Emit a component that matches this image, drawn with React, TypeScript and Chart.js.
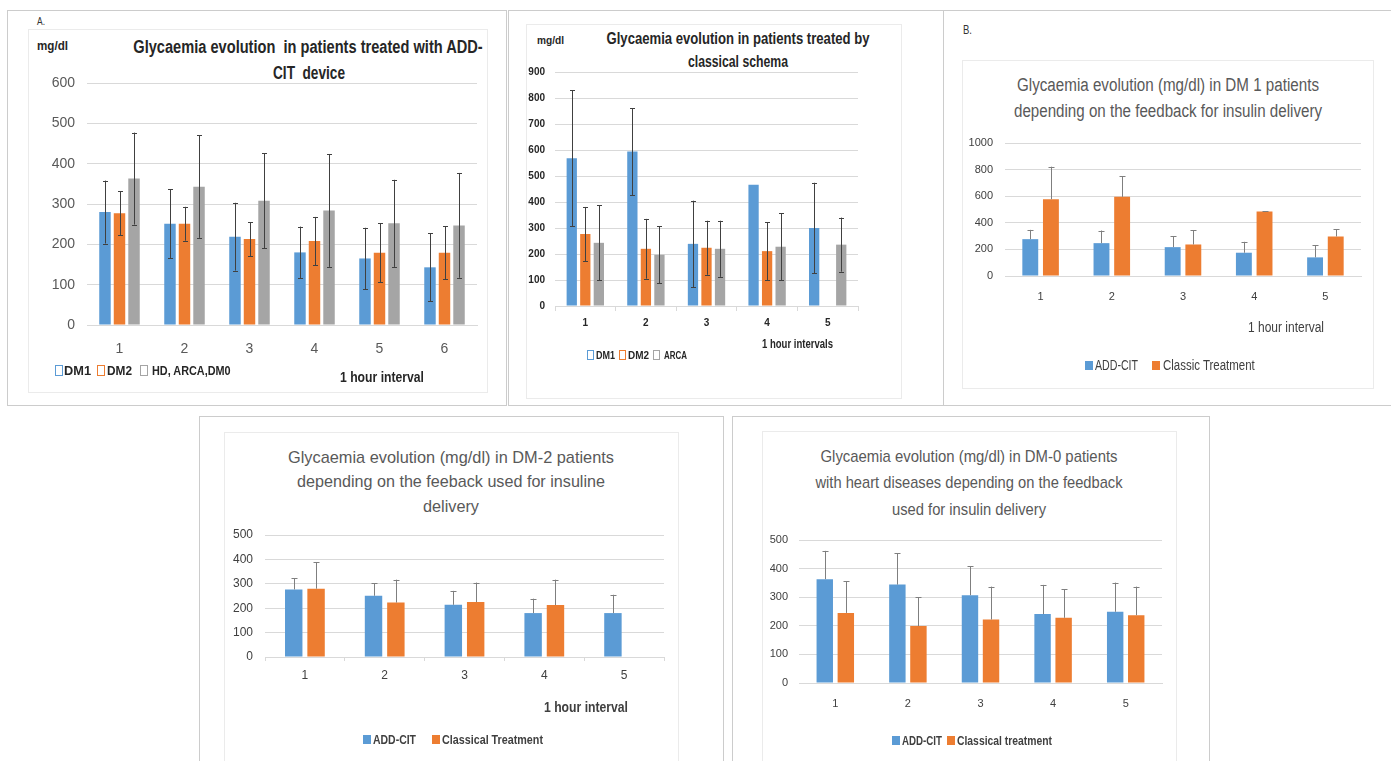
import React, { useEffect, useRef } from 'react';
import { Chart, registerables } from 'chart.js';

Chart.register(...registerables);

const FONT = "'Liberation Sans', Arial, sans-serif";
Chart.defaults.font.family = FONT;

const BLUE = '#5B9BD5';
const ORANGE = '#ED7D31';
const GRAY = '#A5A5A5';
const GRID = '#D9D9D9';

// ---------- Panel A: ADD-CIT device ----------
const aLabels = ['1', '2', '3', '4', '5', '6'];
const aDM1 = [280, 251, 219, 180, 165, 143];
const aDM1Err = [78, 85, 84, 64, 76, 84];
const aDM2 = [277, 251, 213, 208, 179, 179];
const aDM2Err = [55, 42, 42, 60, 73, 66];
const aHD = [363, 343, 308, 284, 252, 247];
const aHDErr = [114, 127, 118, 140, 108, 130];

// ---------- Panel: classical schema ----------
const cLabels = ['1', '2', '3', '4', '5'];
const cDM1 = [568, 594, 239, 466, 300];
const cDM1Err = [262, 167, 166, null, 174];
const cDM2 = [277, 220, 224, 211, null];
const cDM2Err = [104, 115, 104, 112, null];
const cARCA = [243, 197, 220, 228, 236];
const cARCAErr = [144, 110, 108, 128, 104];

// ---------- Panel B: DM 1 ----------
const bLabels = ['1', '2', '3', '4', '5'];
const bAdd = [277, 247, 217, 175, 140];
const bAddErr = [70, 95, 83, 82, 92];
const bCls = [577, 595, 237, 485, 297];
const bClsErr = [245, 155, 108, 0, 55];

// ---------- Panel DM-2 ----------
const dLabels = ['1', '2', '3', '4', '5'];
const dAdd = [277, 251, 214, 180, 180];
const dAddErr = [46, 51, 57, 59, 75];
const dCls = [280, 223, 225, 213, null];
const dClsErr = [109, 94, 80, 104, null];

// ---------- Panel DM-0 ----------
const eLabels = ['1', '2', '3', '4', '5'];
const eAdd = [363, 344, 307, 241, 249];
const eAddErr = [99, 109, 102, 102, 102];
const eCls = [245, 199, 222, 228, 237];
const eClsErr = [111, 101, 115, 100, 100];

const measureCtx = document.createElement('canvas').getContext('2d') as CanvasRenderingContext2D;
function measure(text: string, size: number, bold: boolean) {
  measureCtx.font = `${bold ? 'bold ' : ''}${size}px ${FONT}`;
  return measureCtx.measureText(text).width;
}

const errorBarPlugin = {
  id: 'errorBars',
  afterDatasetsDraw(chart: any, _args: any, opts: any) {
    const ctx = chart.ctx;
    const ys = chart.scales.y;
    chart.data.datasets.forEach((ds: any, di: number) => {
      const errs = ds.errors;
      if (!errs) return;
      const meta = chart.getDatasetMeta(di);
      meta.data.forEach((bar: any, i: number) => {
        const v = ds.data[i];
        const e = errs[i];
        if (v == null || e == null) return;
        const x = bar.x;
        const yT = ys.getPixelForValue(v + e);
        const yB = opts.both ? ys.getPixelForValue(v - e) : ys.getPixelForValue(v);
        const c = opts.cap;
        const xr = Math.round(x) + 0.5;
        ctx.save();
        ctx.strokeStyle = opts.color;
        ctx.lineWidth = 1;
        ctx.beginPath();
        ctx.moveTo(xr, yT);
        ctx.lineTo(xr, yB);
        ctx.moveTo(xr - c, Math.round(yT) + 0.5);
        ctx.lineTo(xr + c, Math.round(yT) + 0.5);
        if (opts.both) {
          ctx.moveTo(xr - c, Math.round(yB) + 0.5);
          ctx.lineTo(xr + c, Math.round(yB) + 0.5);
        }
        ctx.stroke();
        ctx.restore();
      });
    });
  },
};

type DS = { label: string; data: (number | null)[]; errors: (number | null)[]; color: string };

type BarProps = {
  x: number; y: number; w: number; h: number;
  labels: string[];
  datasets: DS[];
  max: number; step: number;
  pad: { top: number; right: number; bottom: number; left: number };
  yWidth: number; xHeight: number;
  yPad: number; xPad: number;
  tickFont: any; tickColor: string;
  xTicks: boolean; tickLen: number;
  cp: number; bp: number;
  errBoth: boolean; errColor: string; cap: number;
};

function BarCanvas(p: BarProps) {
  const ref = useRef<HTMLCanvasElement>(null);
  useEffect(() => {
    const chart = new Chart(ref.current as HTMLCanvasElement, {
      type: 'bar',
      data: {
        labels: p.labels,
        datasets: p.datasets.map((d) => ({
          label: d.label,
          data: d.data,
          backgroundColor: d.color,
          borderWidth: 0,
          errors: d.errors,
          categoryPercentage: p.cp,
          barPercentage: p.bp,
        })) as any,
      },
      options: {
        animation: false,
        responsive: false,
        maintainAspectRatio: false,
        devicePixelRatio: 1,
        layout: { padding: p.pad },
        plugins: {
          legend: { display: false },
          title: { display: false },
          tooltip: { enabled: false },
          errorBars: { both: p.errBoth, color: p.errColor, cap: p.cap },
        } as any,
        scales: {
          x: {
            type: 'category',
            grid: p.xTicks
              ? { display: true, drawOnChartArea: false, drawTicks: true, tickLength: p.tickLen, color: GRID, offset: true }
              : { display: false, drawTicks: false },
            border: { display: true, color: GRID },
            ticks: { font: p.tickFont, color: p.tickColor, padding: p.xPad, maxRotation: 0 },
            afterFit: (s: any) => { s.height = p.xHeight; },
          },
          y: {
            min: 0,
            max: p.max,
            ticks: { stepSize: p.step, font: p.tickFont, color: p.tickColor, padding: p.yPad, callback: (v: any) => String(v) },
            grid: { color: GRID, drawTicks: false },
            border: { display: false },
            afterFit: (s: any) => { s.width = p.yWidth; },
          },
        },
      },
      plugins: [errorBarPlugin],
    });
    return () => chart.destroy();
  }, []);
  return (
    <canvas
      ref={ref}
      width={p.w}
      height={p.h}
      style={{ position: 'absolute', left: p.x, top: p.y, width: p.w, height: p.h }}
    />
  );
}

// Text positioned at (x, y): left edge (or centre if center) at x, vertical centre at y.
// If w is given, the text is squeezed horizontally to that width (condensed look).
function T(props: { x: number; y: number; text: string; size: number; bold?: boolean; color?: string; center?: boolean; w?: number }) {
  const bold = !!props.bold;
  const sx = props.w ? props.w / measure(props.text, props.size, bold) : 1;
  const tr = props.center ? `translate(-50%, -50%) scaleX(${sx})` : `translateY(-50%) scaleX(${sx})`;
  return (
    <div
      style={{
        position: 'absolute',
        left: props.x,
        top: props.y,
        transform: tr,
        transformOrigin: props.center ? 'center center' : 'left center',
        fontFamily: FONT,
        fontSize: props.size,
        fontWeight: bold ? 'bold' : 'normal',
        color: props.color || '#404040',
        whiteSpace: 'pre',
        lineHeight: 1,
      }}
    >
      {props.text}
    </div>
  );
}

function Box(props: { x: number; y: number; w: number; h: number; color: string; noRight?: boolean }) {
  return (
    <div
      style={{
        position: 'absolute',
        left: props.x,
        top: props.y,
        width: props.w,
        height: props.h,
        boxSizing: 'border-box',
        border: `1px solid ${props.color}`,
        borderRight: props.noRight ? 'none' : `1px solid ${props.color}`,
      }}
    />
  );
}

function Swatch(props: { x: number; y: number; w: number; h: number; color: string; hollow?: boolean }) {
  return (
    <div
      style={{
        position: 'absolute',
        left: props.x,
        top: props.y - props.h / 2,
        width: props.w,
        height: props.h,
        boxSizing: 'border-box',
        background: props.hollow ? '#fff' : props.color,
        border: props.hollow ? `1px solid ${props.color}` : 'none',
      }}
    />
  );
}

export default function App() {
  const outer = '#CCCCCC';
  const inner = '#EBEBEB';
  const dark = '#262626';
  const mid = '#595959';
  return (
    <div style={{ position: 'absolute', left: 0, top: 0, width: 1391, height: 761, background: '#fff', overflow: 'hidden' }}>
      {/* outer panels */}
      <Box x={7} y={10} w={500} h={396} color={outer} />
      <Box x={508} y={10} w={436} h={396} color={outer} noRight />
      <Box x={943} y={10} w={460} h={396} color={outer} />
      <Box x={199} y={416} w={525} h={360} color={outer} />
      <Box x={732} y={416} w={478} h={360} color={outer} />
      {/* inner chart boxes */}
      <Box x={28} y={29} w={460} h={364} color={inner} />
      <Box x={526} y={24} w={376} h={375} color={inner} />
      <Box x={962} y={60} w={412} h={329} color={inner} />
      <Box x={224} y={432} w={455} h={340} color={inner} />
      <Box x={762} y={431} w={415} h={340} color={inner} />

      {/* ---------- Panel A ---------- */}
      <T x={37} y={21} text="A." size={11} color="#333" w={8} />
      <T x={37} y={46} text="mg/dl" size={12} bold color={dark} w={31} />
      <T x={308} y={47} text="Glycaemia evolution  in patients treated with ADD-" size={18} bold center color={dark} w={350} />
      <T x={309} y={73} text="CIT  device" size={18} bold center color={dark} w={72} />
      <BarCanvas
        x={28} y={29} w={459} h={363}
        labels={aLabels}
        datasets={[
          { label: 'DM1', data: aDM1, errors: aDM1Err, color: BLUE },
          { label: 'DM2', data: aDM2, errors: aDM2Err, color: ORANGE },
          { label: 'HD, ARCA,DM0', data: aHD, errors: aHDErr, color: GRAY },
        ]}
        max={600} step={100}
        pad={{ top: 54, right: 10, bottom: 27, left: 0 }}
        yWidth={59} xHeight={40} yPad={12} xPad={16}
        tickFont={{ size: 14 }} tickColor={mid}
        xTicks={false} tickLen={0}
        cp={0.67} bp={0.79}
        errBoth errColor="#404040" cap={2.5}
      />
      <Swatch x={55} y={370} w={8} h={11} color={BLUE} hollow />
      <T x={64} y={370} text="DM1" size={13} bold color={dark} w={27} />
      <Swatch x={97} y={370} w={8} h={11} color={ORANGE} hollow />
      <T x={107} y={370} text="DM2" size={13} bold color={dark} w={25} />
      <Swatch x={140} y={370} w={8} h={11} color={GRAY} hollow />
      <T x={152} y={370} text="HD, ARCA,DM0" size={13} bold color={dark} w={79} />
      <T x={340} y={376} text="1 hour interval" size={15} bold color={dark} w={84} />

      {/* ---------- Panel classical schema ---------- */}
      <T x={537} y={40} text="mg/dl" size={11} bold color={dark} w={27} />
      <T x={738} y={38} text="Glycaemia evolution in patients treated by" size={17} bold center color={dark} w={263} />
      <T x={738} y={61} text="classical schema" size={17} bold center color={dark} w={100} />
      <BarCanvas
        x={526} y={24} w={375} h={374}
        labels={cLabels}
        datasets={[
          { label: 'DM1', data: cDM1, errors: cDM1Err, color: BLUE },
          { label: 'DM2', data: cDM2, errors: cDM2Err, color: ORANGE },
          { label: 'ARCA', data: cARCA, errors: cARCAErr, color: GRAY },
        ]}
        max={900} step={100}
        pad={{ top: 48, right: 43, bottom: 62, left: 0 }}
        yWidth={29} xHeight={30} yPad={10} xPad={6}
        tickFont={{ size: 10, weight: 'bold' }} tickColor={dark}
        xTicks tickLen={5}
        cp={0.67} bp={0.76}
        errBoth errColor="#404040" cap={2.5}
      />
      <Swatch x={587} y={355} w={7} h={10} color={BLUE} hollow />
      <T x={596} y={355} text="DM1" size={11} bold color={dark} w={19} />
      <Swatch x={619} y={355} w={7} h={10} color={ORANGE} hollow />
      <T x={628} y={355} text="DM2" size={11} bold color={dark} w={21} />
      <Swatch x={653} y={355} w={7} h={10} color={GRAY} hollow />
      <T x={664} y={355} text="ARCA" size={11} bold color={dark} w={23} />
      <T x={762} y={343} text="1 hour intervals" size={13} bold color={dark} w={71} />

      {/* ---------- Panel B: DM 1 ---------- */}
      <T x={963} y={30} text="B." size={12} color="#333" w={9} />
      <T x={1168} y={85} text="Glycaemia evolution (mg/dl) in DM 1 patients" size={18} center color={mid} w={302} />
      <T x={1168} y={111} text="depending on the feedback for insulin delivery" size={18} center color={mid} w={308} />
      <BarCanvas
        x={962} y={60} w={411} h={328}
        labels={bLabels}
        datasets={[
          { label: 'ADD-CIT', data: bAdd, errors: bAddErr, color: BLUE },
          { label: 'Classic Treatment', data: bCls, errors: bClsErr, color: ORANGE },
        ]}
        max={1000} step={200}
        pad={{ top: 83, right: 12, bottom: 72, left: 0 }}
        yWidth={43} xHeight={40} yPad={12} xPad={14}
        tickFont={{ size: 11 }} tickColor="#404040"
        xTicks={false} tickLen={0}
        cp={0.58} bp={0.77}
        errBoth={false} errColor="#7F7F7F" cap={3}
      />
      <T x={1248} y={327} text="1 hour interval" size={14} color="#404040" w={76} />
      <Swatch x={1085} y={365} w={8} h={9} color={BLUE} />
      <T x={1095} y={365} text="ADD-CIT" size={14} color="#404040" w={43} />
      <Swatch x={1152} y={365} w={8} h={9} color={ORANGE} />
      <T x={1163} y={365} text="Classic Treatment" size={14} color="#404040" w={92} />

      {/* ---------- Panel DM-2 ---------- */}
      <T x={451} y={457} text="Glycaemia evolution (mg/dl) in DM-2 patients" size={17} center color={mid} w={326} />
      <T x={451} y={481} text="depending on the feeback used for insuline" size={17} center color={mid} w={308} />
      <T x={451} y={506} text="delivery" size={17} center color={mid} w={56} />
      <BarCanvas
        x={224} y={432} w={454} h={329}
        labels={dLabels}
        datasets={[
          { label: 'ADD-CIT', data: dAdd, errors: dAddErr, color: BLUE },
          { label: 'Classical Treatment', data: dCls, errors: dClsErr, color: ORANGE },
        ]}
        max={500} step={100}
        pad={{ top: 103, right: 14, bottom: 74, left: 0 }}
        yWidth={41} xHeight={30} yPad={12} xPad={7}
        tickFont={{ size: 12 }} tickColor="#404040"
        xTicks tickLen={4}
        cp={0.56} bp={0.78}
        errBoth={false} errColor="#7F7F7F" cap={3}
      />
      <T x={544} y={707} text="1 hour interval" size={14} bold color="#404040" w={84} />
      <Swatch x={363} y={739} w={8} h={9} color={BLUE} />
      <T x={373} y={739} text="ADD-CIT" size={13} bold color="#404040" w={43} />
      <Swatch x={432} y={739} w={8} h={9} color={ORANGE} />
      <T x={442} y={739} text="Classical Treatment" size={13} bold color="#404040" w={101} />

      {/* ---------- Panel DM-0 ---------- */}
      <T x={969} y={456} text="Glycaemia evolution (mg/dl) in DM-0 patients" size={17} center color={mid} w={297} />
      <T x={969} y={482} text="with heart diseases depending on the feedback" size={17} center color={mid} w={307} />
      <T x={969} y={509} text="used for insulin delivery" size={17} center color={mid} w={154} />
      <BarCanvas
        x={762} y={431} w={414} h={330}
        labels={eLabels}
        datasets={[
          { label: 'ADD-CIT', data: eAdd, errors: eAddErr, color: BLUE },
          { label: 'Classical treatment', data: eCls, errors: eClsErr, color: ORANGE },
        ]}
        max={500} step={100}
        pad={{ top: 109, right: 14, bottom: 38, left: 0 }}
        yWidth={37} xHeight={40} yPad={11} xPad={14}
        tickFont={{ size: 11 }} tickColor="#404040"
        xTicks={false} tickLen={0}
        cp={0.58} bp={0.78}
        errBoth={false} errColor="#7F7F7F" cap={3}
      />
      <Swatch x={892} y={740} w={8} h={9} color={BLUE} />
      <T x={902} y={740} text="ADD-CIT" size={13} bold color="#404040" w={40} />
      <Swatch x={947} y={740} w={8} h={9} color={ORANGE} />
      <T x={957} y={740} text="Classical treatment" size={13} bold color="#404040" w={95} />
    </div>
  );
}
